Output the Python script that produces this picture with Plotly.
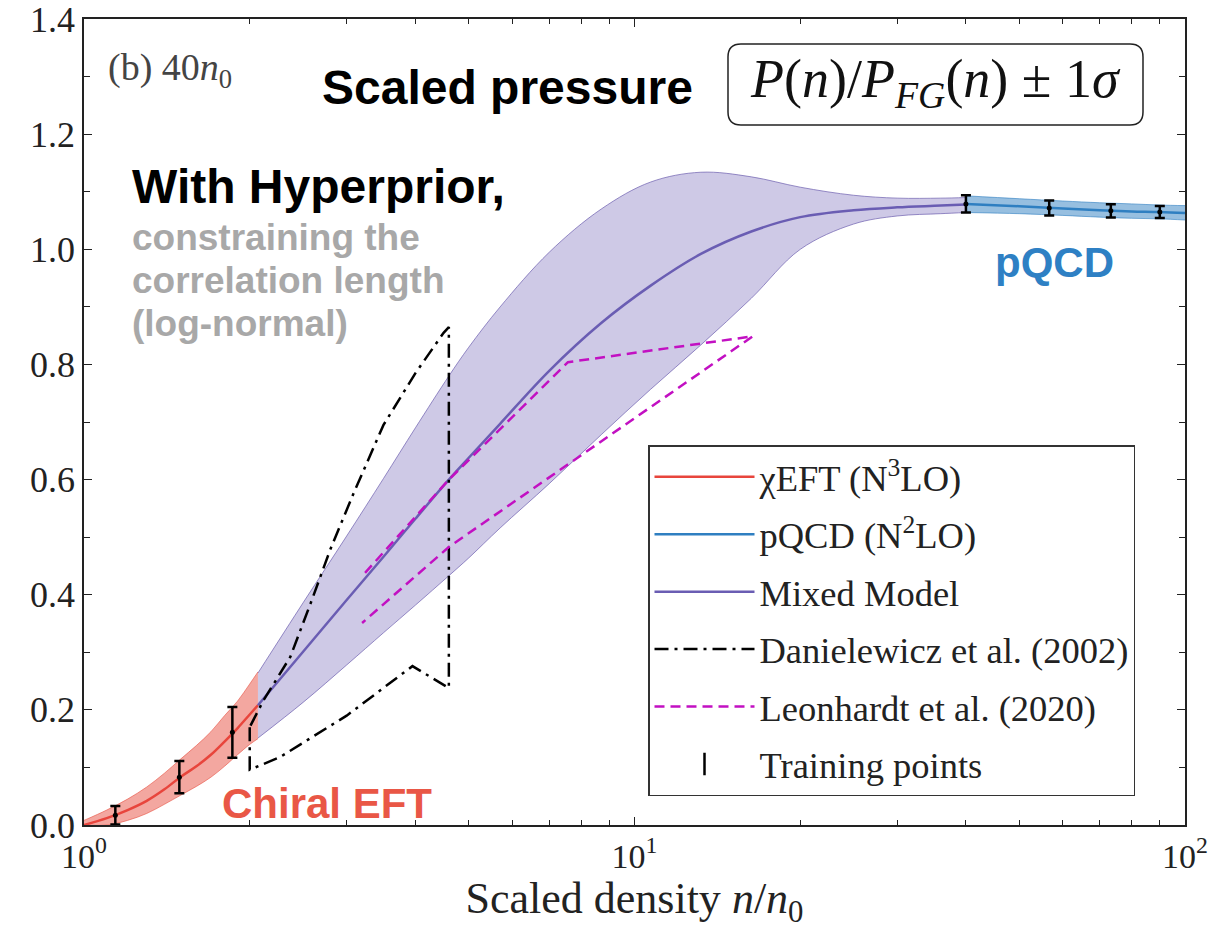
import plotly.graph_objects as go

# ---------------- data ----------------
# Chiral EFT band
eft_x = [1.0, 1.1, 1.2, 1.3, 1.4, 1.5, 1.6, 1.7, 1.8, 1.9, 2.0, 2.07]
eft_mean = [0.0, 0.012, 0.026, 0.042, 0.062, 0.084, 0.102, 0.122, 0.145, 0.168, 0.192, 0.208]
eft_upper = [0.008, 0.026, 0.045, 0.066, 0.090, 0.115, 0.138, 0.162, 0.190, 0.215, 0.245, 0.266]
eft_lower = [0.0, 0.0, 0.008, 0.020, 0.036, 0.052, 0.067, 0.083, 0.102, 0.122, 0.140, 0.150]

# Mixed model band
mix_x = [2.07, 2.5, 3.0, 3.5, 4.0, 4.6, 5.0, 5.7, 7.0, 8.7, 10.7, 13.2, 16.3, 20, 25, 30, 36, 40]
mix_mean = [0.208, 0.301, 0.391, 0.466, 0.532, 0.600, 0.638, 0.697, 0.789, 0.872, 0.937, 0.992,
            1.031, 1.056, 1.068, 1.073, 1.076, 1.078]
mix_upper = [0.264, 0.386, 0.502, 0.602, 0.690, 0.780, 0.830, 0.900, 0.995, 1.070, 1.117, 1.134,
             1.126, 1.108, 1.094, 1.089, 1.089, 1.090]
mix_lower = [0.151, 0.213, 0.278, 0.334, 0.382, 0.433, 0.464, 0.516, 0.593, 0.678, 0.757, 0.834,
             0.915, 1.000, 1.044, 1.058, 1.062, 1.064]

# pQCD band
pqcd_x = [40, 50, 60, 70, 80, 90, 100]
pqcd_mean = [1.079, 1.075, 1.071, 1.068, 1.066, 1.065, 1.063]
pqcd_upper = [1.093, 1.088, 1.084, 1.081, 1.079, 1.077, 1.076]
pqcd_lower = [1.064, 1.062, 1.059, 1.056, 1.054, 1.053, 1.051]

# Training points
train_x = [1.14, 1.49, 1.86, 40, 56.67, 73.33, 90]
train_y = [0.017, 0.083, 0.161, 1.079, 1.072, 1.067, 1.065]
train_err = [0.016, 0.028, 0.044, 0.015, 0.013, 0.0115, 0.0105]

# Danielewicz et al. (2002) contour
dan_lower_x = [2.0, 2.27, 3.0, 3.95, 4.6]
dan_lower_y = [0.096, 0.118, 0.190, 0.276, 0.238]
dan_upper_x = [2.0, 2.12, 2.37, 2.58, 2.8, 3.1, 3.5, 4.0, 4.5, 4.6]
dan_upper_y = [0.170, 0.217, 0.292, 0.385, 0.478, 0.580, 0.695, 0.785, 0.855, 0.865]

# Leonhardt et al. (2020)
leo_x = [3.24, 4.6, 7.57, 16.4, 4.6, 3.2]
leo_y = [0.438, 0.600, 0.804, 0.849, 0.483, 0.351]

# ---------------- styling ----------------
W, H = 1229, 929
L, R, T, B = 84, 44, 19, 104
PW, PH = W - L - R, H - T - B

RED = "#e8453c"
BLUE = "#2f7fc1"
PURPLE = "#6a5db3"
MAGENTA = "#c210c2"
SERIF = "Liberation Serif"
SANS = "Liberation Sans"


def paper(px, py):
    return (px - L) / PW, (H - B - py) / PH


fig = go.Figure()


def add_band(x, lower, upper, fill, edge):
    fig.add_trace(go.Scatter(x=x, y=lower, mode="lines", line=dict(color=edge, width=1, shape="spline"),
                             showlegend=False, hoverinfo="skip"))
    fig.add_trace(go.Scatter(x=x, y=upper, mode="lines", line=dict(color=edge, width=1, shape="spline"),
                             fill="tonexty", fillcolor=fill, showlegend=False, hoverinfo="skip"))


add_band(mix_x, mix_lower, mix_upper, "rgba(120,105,185,0.36)", "rgba(110,95,175,0.7)")
add_band(eft_x, eft_lower, eft_upper, "rgba(232,80,65,0.5)", "rgba(232,80,65,0.6)")
add_band(pqcd_x, pqcd_lower, pqcd_upper, "rgba(47,127,193,0.5)", "rgba(47,127,193,0.6)")

# mean lines
fig.add_trace(go.Scatter(x=eft_x, y=eft_mean, mode="lines",
                         line=dict(color=RED, width=2.5, shape="spline"),
                         name="χEFT (N<sup>3</sup>LO)", legendgroup="a"))
fig.add_trace(go.Scatter(x=pqcd_x, y=pqcd_mean, mode="lines",
                         line=dict(color=BLUE, width=2.5, shape="spline"),
                         name="pQCD (N<sup>2</sup>LO)", legendgroup="b"))
fig.add_trace(go.Scatter(x=mix_x, y=mix_mean, mode="lines",
                         line=dict(color=PURPLE, width=2.5, shape="spline"),
                         name="Mixed Model", legendgroup="c"))

# Danielewicz closed contour
dan_x = [dan_upper_x[0]] + dan_lower_x + dan_upper_x[::-1]
dan_y = [dan_upper_y[0]] + dan_lower_y + dan_upper_y[::-1]
fig.add_trace(go.Scatter(x=dan_x, y=dan_y, mode="lines",
                         line=dict(color="black", width=2.5, dash="14px,6px,3px,6px"),
                         name="Danielewicz et al. (2002)", legendgroup="d"))

# Leonhardt
fig.add_trace(go.Scatter(x=leo_x, y=leo_y, mode="lines",
                         line=dict(color=MAGENTA, width=2.5, dash="10px,6px"),
                         name="Leonhardt et al. (2020)", legendgroup="e"))

# training points
fig.add_trace(go.Scatter(
    x=train_x, y=train_y, mode="markers",
    marker=dict(color="black", size=5),
    error_y=dict(type="data", array=train_err, color="black", thickness=2.5, width=5),
    showlegend=False, hoverinfo="x+y"))
fig.add_trace(go.Scatter(
    x=[None], y=[None], mode="markers", name="Training points", legendgroup="f",
    marker=dict(symbol="line-ns", size=16, color="black", line=dict(color="black", width=2.5))))

# ---------------- annotations ----------------
ann = []


def add_text(text, px, py, size, color, family, xanchor="left", bold=False):
    x, y = paper(px, py)
    if bold:
        text = "<b>" + text + "</b>"
    ann.append(dict(text=text, x=x, y=y, xref="paper", yref="paper", xanchor=xanchor,
                    yanchor="middle", showarrow=False,
                    font=dict(size=size, color=color, family=family)))


add_text("(b) 40<i>n</i><sub>0</sub>", 106, 70, 38, "#444444", SERIF)
add_text("Scaled pressure", 320, 87, 48, "black", SANS, bold=True)
add_text("With Hyperprior,", 130, 187, 48, "black", SANS, bold=True)
add_text("constraining the", 130, 237, 37, "#a8a8a8", SANS, bold=True)
add_text("correlation length", 130, 280, 37, "#a8a8a8", SANS, bold=True)
add_text("(log-normal)", 130, 324, 37, "#a8a8a8", SANS, bold=True)
add_text("Chiral EFT", 220, 803, 42, "#e95746", SANS, bold=True)
add_text("pQCD", 993, 262, 42, "#2e80c4", SANS, bold=True)
add_text("<i>P</i>(<i>n</i>)/<i>P</i><sub><i>FG</i></sub>(<i>n</i>) ± 1<i>σ</i>",
         935, 82, 54, "#111111", SERIF, xanchor="center")
fig.update_layout(annotations=ann)

# rounded box around the title formula
bx0, by0, bx1, by1, rr = 728, 44, 1143, 125, 13


def rounded_path(x0, y0, x1, y1, r):
    def p(px, py):
        x, y = paper(px, py)
        return f"{x:.5f},{y:.5f}"
    return (f"M {p(x0 + r, y0)} L {p(x1 - r, y0)} Q {p(x1, y0)} {p(x1, y0 + r)} "
            f"L {p(x1, y1 - r)} Q {p(x1, y1)} {p(x1 - r, y1)} L {p(x0 + r, y1)} "
            f"Q {p(x0, y1)} {p(x0, y1 - r)} L {p(x0, y0 + r)} Q {p(x0, y0)} {p(x0 + r, y0)} Z")


fig.add_shape(type="path", xref="paper", yref="paper",
              path=rounded_path(bx0, by0, bx1, by1, rr),
              line=dict(color="#222222", width=1.5), fillcolor="rgba(255,255,255,0.9)", layer="below")

# ---------------- axes / layout ----------------
lx, ly = paper(648, 445)
fig.update_layout(
    width=W, height=H,
    margin=dict(l=L, r=R, t=T, b=B, autoexpand=False),
    paper_bgcolor="white", plot_bgcolor="white",
    font=dict(family=SERIF, color="#222222"),
    legend=dict(x=lx, y=ly, xanchor="left", yanchor="top",
                bgcolor="white", bordercolor="#333333", borderwidth=1.5,
                font=dict(family=SERIF, size=36.5, color="#222222"),
                tracegroupgap=7, itemwidth=100),
    xaxis=dict(type="log", range=[0, 2], showgrid=False, zeroline=False, automargin=False,
               showline=True, linecolor="#222222", linewidth=1.5, mirror="allticks",
               ticks="inside", ticklen=8, tickcolor="#222222",
               tickvals=[1, 10, 100], ticktext=["10<sup>0</sup>", "10<sup>1</sup>", "10<sup>2</sup>"],
               tickfont=dict(family=SERIF, size=34, color="#222222"),
               minor=dict(ticks="inside", ticklen=5, tickcolor="#222222", dtick="D1", showgrid=False),
               title=dict(text="Scaled density <i>n</i>/<i>n</i><sub>0</sub>",
                          font=dict(family=SERIF, size=44, color="#222222"), standoff=10)),
    yaxis=dict(range=[0, 1.4002], showgrid=False, zeroline=False, automargin=False,
               showline=True, linecolor="#222222", linewidth=1.5, mirror="allticks",
               ticks="inside", ticklen=8, tickcolor="#222222",
               tickvals=[0, 0.2, 0.4, 0.6, 0.8, 1.0, 1.2, 1.4], tickformat=".1f",
               ticklabeloverflow="allow",
               tickfont=dict(family=SERIF, size=36, color="#222222"),
               minor=dict(ticks="inside", ticklen=6, tickcolor="#222222", dtick=0.1)),
)

fig.write_html("out.html")
